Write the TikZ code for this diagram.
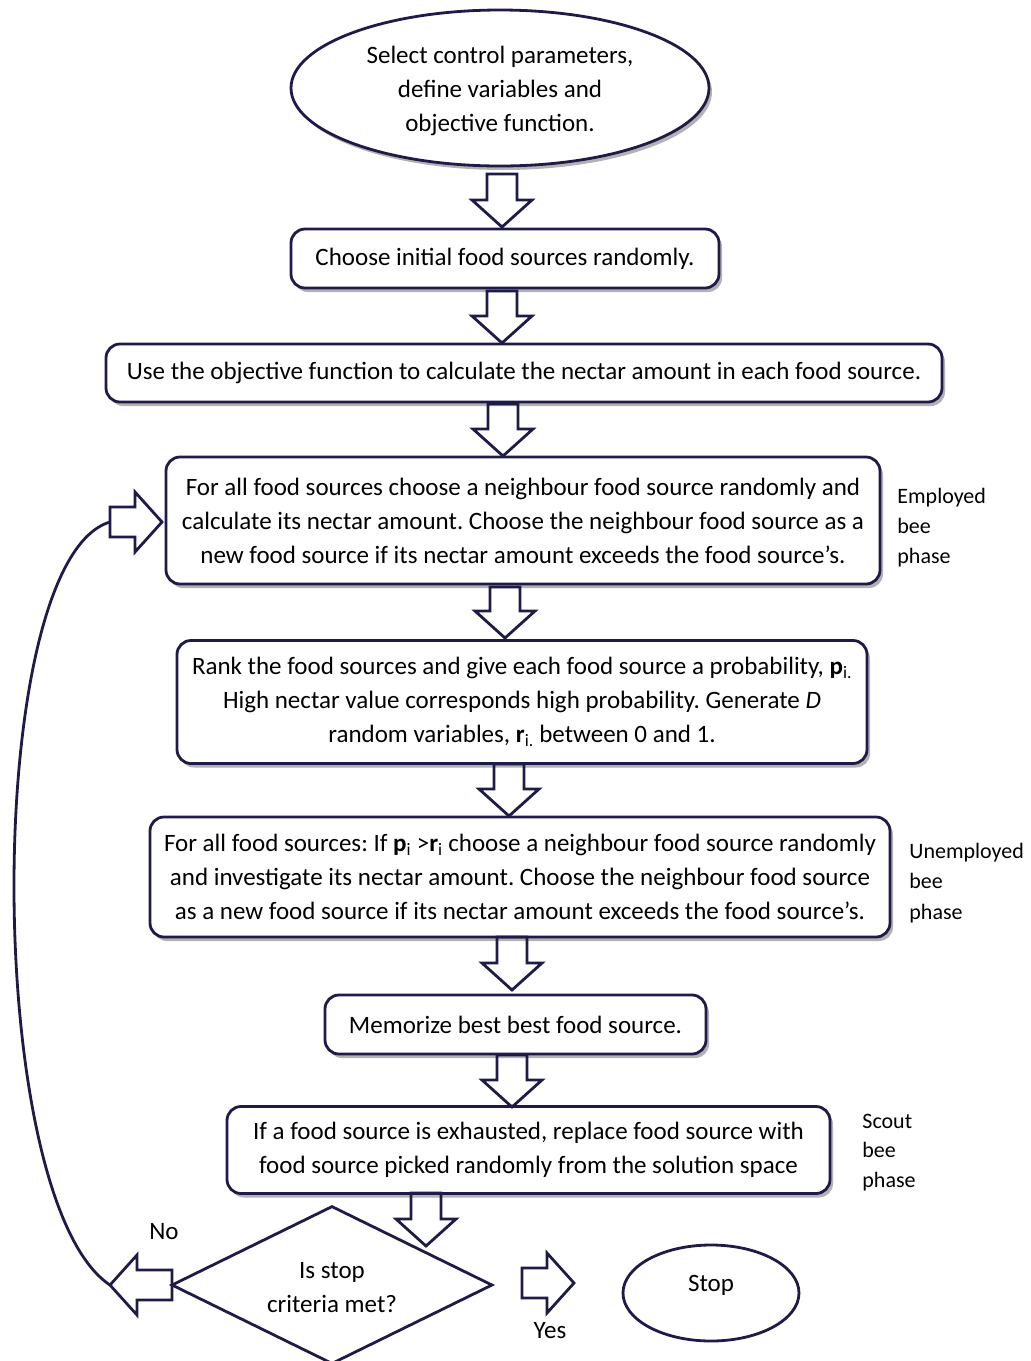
\documentclass[tikz,border=0pt]{standalone}
\usepackage{fontspec}
\setmainfont{Carlito}
\frenchspacing
\usetikzlibrary{shapes.geometric,shadows,calc}
\definecolor{navy}{RGB}{30,27,72}
\begin{document}
\begin{tikzpicture}[x=1pt,y=-1pt,line width=2.8pt,
  txt/.style={font=\fontsize{25}{34}\selectfont, text=black, align=center},
  box/.style={txt, draw=navy, fill=white, rounded corners=14pt, inner sep=0pt,
     drop shadow={shadow xshift=3pt, shadow yshift=-4pt, opacity=0.3, fill=black}},
  lab/.style={font=\fontsize{22}{30}\selectfont, anchor=base west, inner sep=0pt},
  arrowline/.style={draw=navy, line width=2.8pt, line join=miter},
  pics/barrow/.style={code={
    \coordinate (-tail) at (0,0);
    \coordinate (-tip) at (#1,0);
    \draw[arrowline] (0,-15) -- (#1-27,-15) -- (#1-27,-30) -- (#1,0) -- (#1-27,30) -- (#1-27,15) -- (0,15) -- cycle;
  }}]
\useasboundingbox (0,0) rectangle (1031,1361);

% nodes
\node[draw=navy, fill=white, ellipse, inner sep=0pt, minimum width=418pt, minimum height=156pt,
  drop shadow={shadow xshift=3pt, shadow yshift=-4pt, opacity=0.3, fill=black}] (b1) at (500,88) {};
\node[txt] (b1txt) at (500,91)
  {Select control parameters,\\define variables and\\objective function.};
\node[box, minimum width=428pt, minimum height=59pt] (b2) at (505,258.5)
  {Choose initial food sources randomly.};
\node[box, minimum width=836pt, minimum height=58pt] (b3) at (524,373)
  {Use the objective function to calculate the nectar amount in each food source.};
\node[box, minimum width=714pt, minimum height=127pt] (b4) at (523,520.5)
  {For all food sources choose a neighbour food source randomly and\\calculate its nectar amount. Choose the neighbour food source as a\\new food source if its nectar amount exceeds the food source’s.};
\node[box, minimum width=690pt, minimum height=123pt] (b5) at (522,702)
  {Rank the food sources and give each food source a probability, \textbf{p}\textsubscript{i.}\\High nectar value corresponds high probability. Generate \textit{D}\\random variables, \textbf{r}\textsubscript{i.} between 0 and 1.};
\node[box, minimum width=740pt, minimum height=120pt] (b6) at (520,877)
  {For all food sources: If \textbf{p}\textsubscript{i} >\textbf{r}\textsubscript{i} choose a neighbour food source randomly\\and investigate its nectar amount. Choose the neighbour food source\\as a new food source if its nectar amount exceeds the food source’s.};
\node[box, minimum width=381pt, minimum height=59pt] (b7) at (515.5,1024.5)
  {Memorize best best food source.};
\node[box, minimum width=603pt, minimum height=87pt] (b8) at (528.5,1150)
  {If a food source is exhausted, replace food source with\\food source picked randomly from the solution space};
\node[draw=navy, fill=white, diamond, aspect=2, inner sep=0pt,
  minimum width=321pt, minimum height=158pt] (d) at (332,1285) {};
\node[txt] (dtxt) at (332,1288) {Is stop\\criteria met?};
\node[draw=navy, ellipse, minimum width=176pt, minimum height=96pt, inner sep=0pt] (stop) at (711,1293) {};
\node[txt] (stoptxt) at (711,1285) {Stop};

% side labels
\node[lab] (e1) at (896,503) {Employed};
\node[lab] (e2) at (896,533) {bee};
\node[lab] (e3) at (896,563) {phase};
\node[lab] (u1) at (908,858) {Unemployed};
\node[lab] (u2) at (908,888) {bee};
\node[lab] (u3) at (908,919) {phase};
\node[lab] (s1) at (861,1128) {Scout};
\node[lab] (s2) at (861,1157) {bee};
\node[lab] (s3) at (861,1187) {phase};
\node[txt] (no) at (164,1232) {No};
\node[txt] (yes) at (550,1331) {Yes};

% block arrows
\pic[rotate=-90] (a1) at (502,174) {barrow=53};
\pic[rotate=-90] (a2) at (502,291) {barrow=52};
\pic[rotate=-90] (a3) at (503,404) {barrow=52};
\pic[rotate=-90] (a4) at (505,587) {barrow=51};
\pic[rotate=-90] (a5) at (509,764) {barrow=52};
\pic[rotate=-90] (a6) at (512,937) {barrow=53};
\pic[rotate=-90] (a7) at (512,1055) {barrow=52};
\pic[rotate=-90] (a8) at (426,1193) {barrow=53};
\pic (ea) at (110,522) {barrow=52};
\pic[rotate=180] (na) at (172,1285) {barrow=62};
\pic (ya) at (522,1283) {barrow=52};

% loop back curve
\draw[navy] (na-tip) .. controls (-18,1200) and (-18,560) .. (ea-tail);
\end{tikzpicture}
\end{document}
